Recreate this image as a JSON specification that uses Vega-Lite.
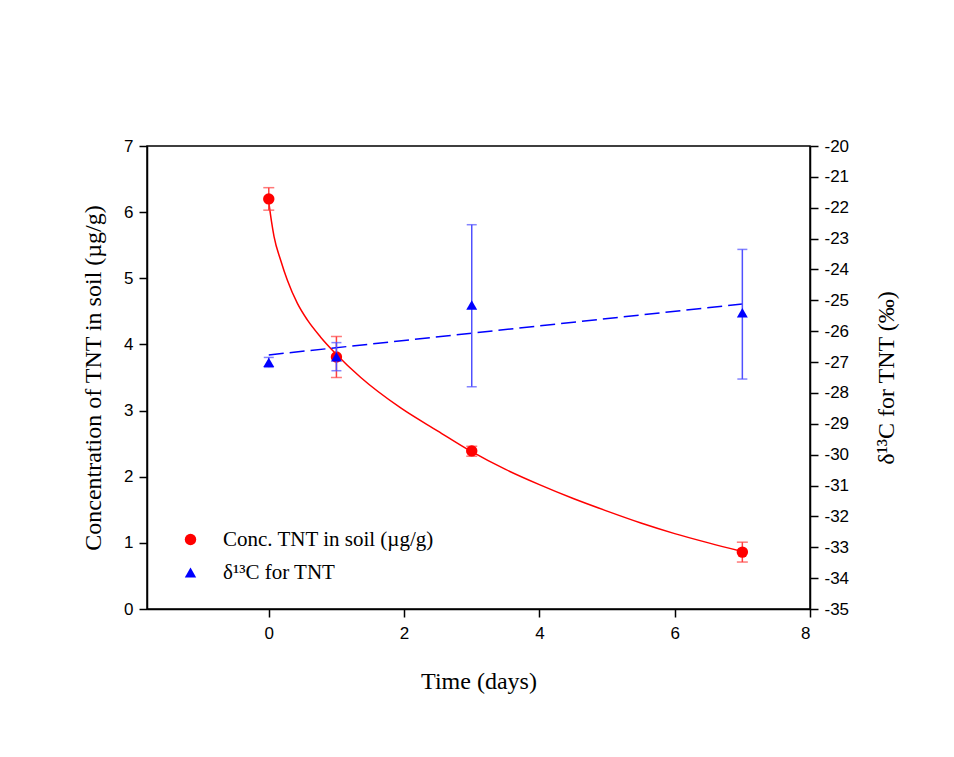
{
  "$schema": "https://vega.github.io/schema/vega-lite/v6.json",
  "width": 663,
  "height": 463,
  "autosize": {"type": "none"},
  "padding": {"left": 147, "top": 146, "right": 144, "bottom": 148},
  "background": "white",
  "config": {
    "view": {"stroke": "black", "strokeWidth": 1.5},
    "axis": {
      "grid": false,
      "domainColor": "black",
      "domainWidth": 1.5,
      "tickColor": "black",
      "tickWidth": 1.5,
      "tickSize": 8,
      "labelFont": "Liberation Sans",
      "labelFontSize": 17,
      "labelColor": "black",
      "labelPadding": 6,
      "titleFont": "Liberation Serif",
      "titleFontSize": 24,
      "titleFontWeight": "normal",
      "titleColor": "black"
    },
    "legend": {
      "orient": "none",
      "legendX": 33,
      "legendY": 383,
      "padding": 0,
      "labelFont": "Liberation Serif",
      "labelFontSize": 21,
      "labelColor": "black",
      "labelLimit": 0,
      "symbolSize": 130,
      "symbolStrokeWidth": 0,
      "rowPadding": 11,
      "labelOffset": 22
    }
  },
  "datasets": {
    "pts": [
      {"t": 0, "conc": 6.2, "clo": 6.03, "chi": 6.37, "d": -27.01, "dlo": -27.17, "dhi": -26.85},
      {"t": 1, "conc": 3.81, "clo": 3.5, "chi": 4.12, "d": -26.83, "dlo": -27.28, "dhi": -26.37},
      {"t": 3, "conc": 2.39, "clo": 2.31, "chi": 2.46, "d": -25.15, "dlo": -27.8, "dhi": -22.55},
      {"t": 7, "conc": 0.86, "clo": 0.71, "chi": 1.01, "d": -25.4, "dlo": -27.55, "dhi": -23.35}
    ],
    "curve": [
      {"t": 0, "y": 6.15},
      {"t": 0.04, "y": 5.86},
      {"t": 0.078, "y": 5.63},
      {"t": 0.177, "y": 5.27},
      {"t": 0.275, "y": 4.97},
      {"t": 0.423, "y": 4.62},
      {"t": 0.57, "y": 4.37},
      {"t": 0.767, "y": 4.11},
      {"t": 0.99, "y": 3.86},
      {"t": 1.36, "y": 3.5},
      {"t": 1.95, "y": 3.04},
      {"t": 2.5, "y": 2.69},
      {"t": 2.98, "y": 2.39},
      {"t": 3.5, "y": 2.11},
      {"t": 4.0, "y": 1.88},
      {"t": 4.5, "y": 1.67},
      {"t": 5.0, "y": 1.48},
      {"t": 5.5, "y": 1.3},
      {"t": 6.0, "y": 1.14},
      {"t": 6.5, "y": 1.0},
      {"t": 7.0, "y": 0.87}
    ],
    "fit": [
      {"t": 0, "y": -26.77},
      {"t": 7, "y": -25.12}
    ]
  },
  "encoding": {
    "x": {
      "field": "t",
      "type": "quantitative",
      "scale": {"domain": [-1.8, 8], "nice": false, "zero": false},
      "axis": {"values": [0, 2, 4, 6, 8], "title": "Time (days)", "titlePadding": 28, "labelPadding": 8}
    }
  },
  "layer": [
    {
      "layer": [
        {
          "data": {"name": "curve"},
          "mark": {"type": "line", "color": "#ff0000", "strokeWidth": 1.5, "interpolate": "monotone"},
          "encoding": {
            "y": {"field": "y", "type": "quantitative", "scale": {"domain": [0, 7], "nice": false}, "axis": {"values": [0, 1, 2, 3, 4, 5, 6, 7], "title": "Concentration of TNT in soil (µg/g)", "titlePadding": 18}}
          }
        },
        {
          "data": {"name": "pts"},
          "mark": {"type": "rule", "color": "#ff4040", "strokeWidth": 1.5},
          "encoding": {
            "y": {"field": "clo", "type": "quantitative", "scale": {"domain": [0, 7], "nice": false}, "axis": {"values": [0, 1, 2, 3, 4, 5, 6, 7], "title": "Concentration of TNT in soil (µg/g)", "titlePadding": 18}},
            "y2": {"field": "chi"}
          }
        },
        {
          "data": {"name": "pts"},
          "mark": {"type": "tick", "orient": "horizontal", "color": "#ff4040", "size": 11, "thickness": 1.5},
          "encoding": {
            "y": {"field": "clo", "type": "quantitative", "scale": {"domain": [0, 7], "nice": false}, "axis": {"values": [0, 1, 2, 3, 4, 5, 6, 7], "title": "Concentration of TNT in soil (µg/g)", "titlePadding": 18}}
          }
        },
        {
          "data": {"name": "pts"},
          "mark": {"type": "tick", "orient": "horizontal", "color": "#ff4040", "size": 11, "thickness": 1.5},
          "encoding": {
            "y": {"field": "chi", "type": "quantitative", "scale": {"domain": [0, 7], "nice": false}, "axis": {"values": [0, 1, 2, 3, 4, 5, 6, 7], "title": "Concentration of TNT in soil (µg/g)", "titlePadding": 18}}
          }
        },
        {
          "data": {"name": "pts"},
          "mark": {"type": "point", "filled": true, "opacity": 1, "size": 130},
          "encoding": {
            "y": {"field": "conc", "type": "quantitative", "scale": {"domain": [0, 7], "nice": false}, "axis": {"values": [0, 1, 2, 3, 4, 5, 6, 7], "title": "Concentration of TNT in soil (µg/g)", "titlePadding": 18}},
            "color": {"datum": "Conc. TNT in soil (µg/g)", "type": "nominal", "scale": {"domain": ["Conc. TNT in soil (µg/g)", "δ¹³C for TNT"], "range": ["#ff0000", "#0000ff"]}, "legend": {"title": null}},
            "shape": {"datum": "Conc. TNT in soil (µg/g)", "type": "nominal", "scale": {"domain": ["Conc. TNT in soil (µg/g)", "δ¹³C for TNT"], "range": ["circle", "triangle-up"]}, "legend": {"title": null}}
          }
        }
      ]
    },
    {
      "layer": [
        {
          "data": {"name": "fit"},
          "mark": {"type": "line", "color": "#0000ff", "strokeWidth": 1.5, "strokeDash": [15, 6]},
          "encoding": {
            "y": {"field": "y", "type": "quantitative", "scale": {"domain": [-35, -20], "nice": false}, "axis": {"orient": "right", "values": [-35, -34, -33, -32, -31, -30, -29, -28, -27, -26, -25, -24, -23, -22, -21, -20], "labelExpr": "'' + datum.value", "title": "δ¹³C for TNT (‰)", "titleAngle": 270, "titleBaseline": "top", "titlePadding": 26}}
          }
        },
        {
          "data": {"name": "pts"},
          "mark": {"type": "rule", "color": "#5050ff", "strokeWidth": 1.5},
          "encoding": {
            "y": {"field": "dlo", "type": "quantitative", "scale": {"domain": [-35, -20], "nice": false}, "axis": {"orient": "right", "values": [-35, -34, -33, -32, -31, -30, -29, -28, -27, -26, -25, -24, -23, -22, -21, -20], "labelExpr": "'' + datum.value", "title": "δ¹³C for TNT (‰)", "titleAngle": 270, "titleBaseline": "top", "titlePadding": 26}},
            "y2": {"field": "dhi"}
          }
        },
        {
          "data": {"name": "pts"},
          "mark": {"type": "tick", "orient": "horizontal", "color": "#5050ff", "size": 10, "thickness": 1.5},
          "encoding": {
            "y": {"field": "dlo", "type": "quantitative", "scale": {"domain": [-35, -20], "nice": false}, "axis": {"orient": "right", "values": [-35, -34, -33, -32, -31, -30, -29, -28, -27, -26, -25, -24, -23, -22, -21, -20], "labelExpr": "'' + datum.value", "title": "δ¹³C for TNT (‰)", "titleAngle": 270, "titleBaseline": "top", "titlePadding": 26}}
          }
        },
        {
          "data": {"name": "pts"},
          "mark": {"type": "tick", "orient": "horizontal", "color": "#5050ff", "size": 10, "thickness": 1.5},
          "encoding": {
            "y": {"field": "dhi", "type": "quantitative", "scale": {"domain": [-35, -20], "nice": false}, "axis": {"orient": "right", "values": [-35, -34, -33, -32, -31, -30, -29, -28, -27, -26, -25, -24, -23, -22, -21, -20], "labelExpr": "'' + datum.value", "title": "δ¹³C for TNT (‰)", "titleAngle": 270, "titleBaseline": "top", "titlePadding": 26}}
          }
        },
        {
          "data": {"name": "pts"},
          "mark": {"type": "point", "filled": true, "opacity": 1, "size": 120},
          "encoding": {
            "y": {"field": "d", "type": "quantitative", "scale": {"domain": [-35, -20], "nice": false}, "axis": {"orient": "right", "values": [-35, -34, -33, -32, -31, -30, -29, -28, -27, -26, -25, -24, -23, -22, -21, -20], "labelExpr": "'' + datum.value", "title": "δ¹³C for TNT (‰)", "titleAngle": 270, "titleBaseline": "top", "titlePadding": 26}},
            "color": {"datum": "δ¹³C for TNT", "type": "nominal", "scale": {"domain": ["Conc. TNT in soil (µg/g)", "δ¹³C for TNT"], "range": ["#ff0000", "#0000ff"]}, "legend": {"title": null}},
            "shape": {"datum": "δ¹³C for TNT", "type": "nominal", "scale": {"domain": ["Conc. TNT in soil (µg/g)", "δ¹³C for TNT"], "range": ["circle", "triangle-up"]}, "legend": {"title": null}}
          }
        }
      ]
    }
  ],
  "resolve": {"scale": {"y": "independent"}}
}
